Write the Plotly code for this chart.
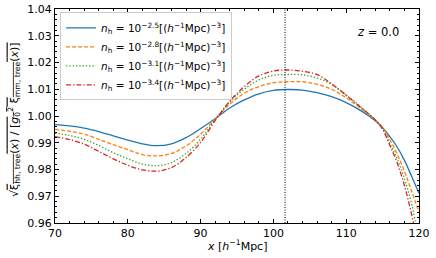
import plotly.graph_objects as go

x_vals = [70, 72, 74, 76, 78, 80, 82, 84, 86, 88, 90, 92, 94, 96, 98, 100,
          102, 104, 106, 108, 110, 112, 114, 115, 116, 117, 118, 119, 120]

ratio_m25 = [0.9968, 0.9963, 0.9955, 0.9942, 0.9926, 0.9910, 0.9896, 0.9889, 0.9896, 0.9919,
             0.9953, 0.9990, 1.0030, 1.0060, 1.0083, 1.0096, 1.0099, 1.0097, 1.0087, 1.0072,
             1.0050, 1.0020, 0.9982, 0.9956, 0.9923, 0.9884, 0.9834, 0.9774, 0.9711]
ratio_m28 = [0.9950, 0.9943, 0.9932, 0.9913, 0.9893, 0.9874, 0.9856, 0.9851, 0.9860, 0.9888,
             0.9932, 0.9988, 1.0044, 1.0085, 1.0110, 1.0124, 1.0128, 1.0128, 1.0118, 1.0100,
             1.0068, 1.0028, 0.9985, 0.9957, 0.9911, 0.9858, 0.9793, 0.9718, 0.9640]
ratio_m31 = [0.9936, 0.9927, 0.9913, 0.9890, 0.9863, 0.9840, 0.9820, 0.9814, 0.9826, 0.9860,
             0.9913, 0.9987, 1.0052, 1.0100, 1.0135, 1.0152, 1.0155, 1.0154, 1.0142, 1.0118,
             1.0078, 1.0035, 0.9985, 0.9952, 0.9897, 0.9840, 0.9765, 0.9670, 0.9530]
ratio_m34 = [0.9923, 0.9912, 0.9895, 0.9868, 0.9840, 0.9816, 0.9799, 0.9794, 0.9807, 0.9845,
             0.9901, 0.9983, 1.0055, 1.0110, 1.0150, 1.0168, 1.0172, 1.0167, 1.0155, 1.0120,
             1.0078, 1.0032, 0.9985, 0.9950, 0.9890, 0.9825, 0.9740, 0.9630, 0.9500]

series_labels = ["−2.5", "−2.8", "−3.1", "−3.4"]
series_values = [ratio_m25, ratio_m28, ratio_m31, ratio_m34]
colors = ["#1f77b4", "#ff7f0e", "#2ca02c", "#d62728"]
dashes = ["solid", "4px,2px", "1.3px,2px", "5px,2px,1.3px,2px"]

bao_peak_x = 101.6
redshift_label = "0.0"

x_ticks = [70, 80, 90, 100, 110, 120]
y_ticks = [0.96, 0.97, 0.98, 0.99, 1.00, 1.01, 1.02, 1.03, 1.04]

FONT = "DejaVu Sans"

fig = go.Figure()
for lab, vals, col, dsh in zip(series_labels, series_values, colors, dashes):
    fig.add_trace(go.Scatter(
        x=x_vals, y=vals, mode="lines",
        line=dict(color=col, dash=dsh, width=1.3, shape="spline", smoothing=1.0),
        name=f"<i>n</i><sub>h</sub> = 10<sup>{lab}</sup>[(<i>h</i><sup>−1</sup>Mpc)<sup>−3</sup>]",
    ))

fig.add_shape(type="line", xref="x", yref="paper", x0=bao_peak_x, x1=bao_peak_x, y0=0, y1=1,
              line=dict(color="black", width=1, dash="1px,1.5px"))

fig.add_annotation(x=0.9505, y=0.894, xref="paper", yref="paper", xanchor="right", yanchor="middle",
                   text=f"<i>z</i> = {redshift_label}", showarrow=False,
                   font=dict(family=FONT, size=11.5, color="black"))

# axis titles as annotations for exact placement
fig.add_annotation(x=0.5, y=0, xref="paper", yref="paper", xanchor="center", yanchor="middle",
                   yshift=-22, showarrow=False,
                   text="<i>x</i> [<i>h</i><sup>−1</sup>Mpc]",
                   font=dict(family=FONT, size=11, color="black"))
fig.add_annotation(x=0, y=0.5, xref="paper", yref="paper", xanchor="center", yanchor="middle",
                   xshift=-41, yshift=-4, textangle=-90, showarrow=False,
                   text="√<span style='text-decoration:overline'>ξ<sub>hh, tree</sub>(<i>x</i>) / [<i>g</i><sub>0</sub><sup>2</sup> ξ<sub>mm, tree</sub>(<i>x</i>)]</span>",
                   font=dict(family=FONT, size=11, color="black"))

axis_common = dict(
    showline=True, linecolor="black", linewidth=1, mirror="allticks",
    ticks="inside", ticklen=4, tickwidth=1, tickcolor="black",
    showgrid=False, zeroline=False, automargin=False,
    tickfont=dict(family=FONT, size=11, color="black"),
)

fig.update_xaxes(range=[70, 120], tickvals=x_ticks, ticktext=[str(v) for v in x_ticks],
                 minor=dict(ticks="inside", dtick=2, ticklen=2, tickcolor="black"),
                 **axis_common)
fig.update_yaxes(range=[0.96, 1.04], tickvals=y_ticks, ticktext=[f"{v:.2f}" for v in y_ticks],
                 minor=dict(ticks="inside", dtick=0.002, ticklen=2, tickcolor="black"),
                 **axis_common)

fig.update_layout(
    width=436, height=258,
    margin=dict(l=55, r=17, t=9, b=35),
    plot_bgcolor="white", paper_bgcolor="white",
    font=dict(family=FONT, size=11, color="black"),
    legend=dict(x=0.014, y=0.984, xanchor="left", yanchor="top",
                bgcolor="rgba(255,255,255,0.8)", bordercolor="#cccccc", borderwidth=1,
                font=dict(family=FONT, size=10.5, color="black"),
                itemwidth=30, tracegroupgap=0),
    showlegend=True,
)

fig.write_html("out.html",
               config={"displayModeBar": False},
               post_script="document.body.style.margin='0';document.body.style.overflow='hidden';")
